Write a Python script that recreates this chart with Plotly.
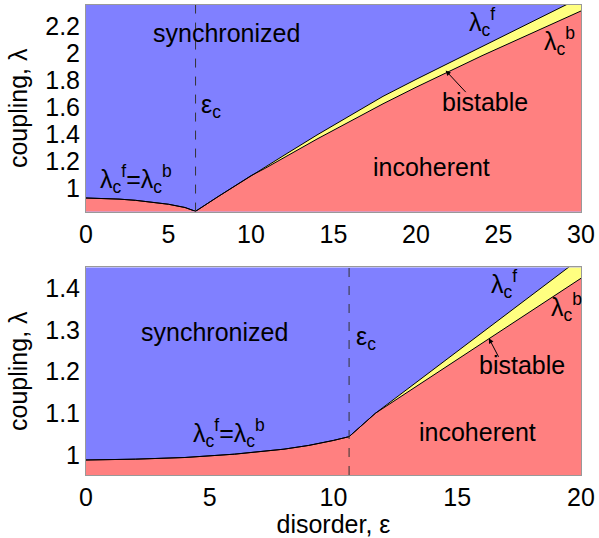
import plotly.graph_objects as go
from plotly.subplots import make_subplots

# ---------------- data: top panel ----------------
eps_top = [0, 1, 2, 3, 4, 5, 6, 6.64, 8, 10, 10.84, 12, 14, 16, 18, 20, 22, 24, 26, 28, 30]
lamf_top = [0.930, 0.928, 0.922, 0.913, 0.900, 0.884, 0.860, 0.832, 0.94, 1.095, 1.158,
            1.245, 1.395, 1.54, 1.68, 1.805, 1.927, 2.05, 2.17, 2.29, 2.41]
lamb_top = [0.930, 0.928, 0.922, 0.913, 0.900, 0.884, 0.860, 0.832, 0.94, 1.095, 1.148,
            1.228, 1.365, 1.495, 1.625, 1.747, 1.865, 1.98, 2.09, 2.20, 2.31]
epsc_top = 6.64

# ---------------- data: bottom panel ----------------
eps_bot = [0, 2, 4, 6, 8, 9, 10, 10.63, 11.69, 13, 14, 15, 16, 17, 18, 19, 20]
lamf_bot = [0.988, 0.990, 0.994, 1.002, 1.014, 1.023, 1.035, 1.044, 1.100,
            1.159, 1.204, 1.249, 1.294, 1.339, 1.384, 1.428, 1.473]
lamb_bot = [0.988, 0.990, 0.994, 1.002, 1.014, 1.023, 1.035, 1.044, 1.100,
            1.151, 1.190, 1.229, 1.268, 1.307, 1.346, 1.385, 1.424]
epsc_bot = 10.63

top_yticks = [1, 1.2, 1.4, 1.6, 1.8, 2, 2.2]
top_xticks = [0, 5, 10, 15, 20, 25, 30]
bot_yticks = [1, 1.1, 1.2, 1.3, 1.4]
bot_xticks = [0, 5, 10, 15, 20]

BLUE = "#8080FF"
RED = "#FF8080"
YELLOW = "#FFFF80"
FONT = "Liberation Sans, Arial, Helvetica, sans-serif"
FS = 25

fig = make_subplots(rows=2, cols=1)

def panel(row, eps, lf, lb):
    fig.add_trace(go.Scatter(x=eps, y=lb, mode="lines", line=dict(color="black", width=1),
                             fill="tozeroy", fillcolor=RED, showlegend=False, hoverinfo="skip"),
                  row=row, col=1)
    fig.add_trace(go.Scatter(x=eps, y=lf, mode="lines", line=dict(color="black", width=1),
                             fill="tonexty", fillcolor=YELLOW, showlegend=False, hoverinfo="skip"),
                  row=row, col=1)

panel(1, eps_top, lamf_top, lamb_top)
panel(2, eps_bot, lamf_bot, lamb_bot)

fig.add_vline(x=epsc_top, line=dict(color="#333333", width=1, dash="dash"), row=1, col=1)
fig.add_vline(x=epsc_bot, line=dict(color="#333333", width=1, dash="dash"), row=2, col=1)

axis_common = dict(showgrid=False, zeroline=False, showline=True, mirror=True,
                   linecolor="#999999", linewidth=1, ticks="", layer="above traces",
                   ticklabeloverflow="allow",
                   tickfont=dict(family=FONT, size=FS, color="black"))

fig.update_xaxes(range=[0, 30], tickvals=top_xticks, row=1, col=1, **axis_common)
fig.update_yaxes(range=[0.83, 2.354], tickvals=top_yticks, row=1, col=1,
                 title=dict(text="coupling, λ", font=dict(family=FONT, size=FS, color="black"), standoff=10),
                 **axis_common)
fig.update_xaxes(range=[0, 20], tickvals=bot_xticks, row=2, col=1,
                 title=dict(text="disorder, ε", font=dict(family=FONT, size=FS, color="black"), standoff=2),
                 **axis_common)
fig.update_yaxes(range=[0.952, 1.45], tickvals=bot_yticks, row=2, col=1,
                 title=dict(text="coupling, λ", font=dict(family=FONT, size=FS, color="black"), standoff=10),
                 **axis_common)

fig.update_layout(yaxis=dict(domain=[0.5605, 1.0]), yaxis2=dict(domain=[0.0, 0.4416]))

def txt(xref, yref, x, y, s, xanchor="center"):
    fig.add_annotation(xref=xref, yref=yref, x=x, y=y, text=s, showarrow=False,
                       xanchor=xanchor, font=dict(family=FONT, size=FS, color="black"))

lf = "λ<sub>c</sub><sup>f</sup>"
lb = "λ<sub>c</sub><sup>b</sup>"

# top annotations
txt("x", "y", 8.5, 2.15, "synchronized")
txt("x", "y", 6.84, 1.61, "ε<sub>c</sub>", xanchor="left")
txt("x", "y", 3.06, 1.07, lf + "=" + lb)
txt("x", "y", 24.0, 2.23, lf)
txt("x", "y", 28.7, 2.09, lb)
txt("x", "y", 24.2, 1.64, "bistable")
txt("x", "y", 20.95, 1.16, "incoherent")
fig.add_annotation(xref="x", yref="y", x=21.8, y=1.87, axref="x", ayref="y", ax=23.1, ay=1.70,
                   text="", showarrow=True, arrowhead=2, arrowsize=1, arrowwidth=1, arrowcolor="black")

# bottom annotations
txt("x2", "y2", 5.2, 1.295, "synchronized")
txt("x2", "y2", 10.84, 1.28, "ε<sub>c</sub>", xanchor="left")
txt("x2", "y2", 5.76, 1.053, lf + "=" + lb)
txt("x2", "y2", 16.9, 1.41, lf)
txt("x2", "y2", 19.4, 1.355, lb)
txt("x2", "y2", 17.6, 1.215, "bistable")
txt("x2", "y2", 15.8, 1.055, "incoherent")
fig.add_annotation(xref="x2", yref="y2", x=16.28, y=1.28, axref="x2", ayref="y2", ax=16.7, ay=1.232,
                   text="", showarrow=True, arrowhead=2, arrowsize=1, arrowwidth=1, arrowcolor="black")

fig.update_layout(width=599, height=538, margin=dict(l=86, r=13, t=4, b=63),
                  paper_bgcolor="white", plot_bgcolor=BLUE,
                  font=dict(family=FONT, size=FS, color="black"), showlegend=False)

fig.write_html("out.html", config={"displayModeBar": False},
               post_script="document.body.style.margin='0px';document.body.style.overflow='hidden';")
